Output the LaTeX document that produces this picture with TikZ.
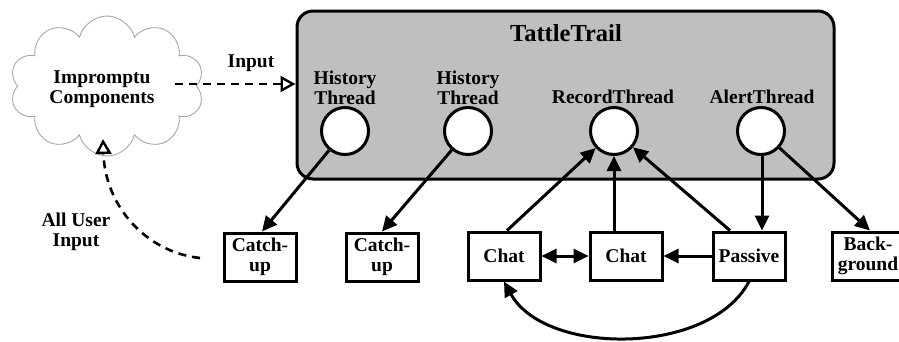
\documentclass[tikz,border=0pt]{standalone}
\usepackage{fontspec}
\setmainfont{Liberation Serif}
\usetikzlibrary{arrows.meta,shapes.symbols,calc}
\begin{document}
\begin{tikzpicture}[x=1pt,y=-1pt,
  lbl/.style={font=\fontsize{19.5}{19.5}\selectfont\bfseries, align=center, inner sep=0pt},
  thread/.style={circle, draw, fill=white, line width=3pt, minimum size=47pt, inner sep=0pt},
  task/.style={rectangle, draw, fill=white, line width=3pt, minimum width=72pt, minimum height=48pt,
    inner sep=0pt, font=\fontsize{19.5}{19.5}\selectfont\bfseries, align=center},
  link/.style={line width=3pt, -{Triangle[length=15pt,width=14pt]}},
  dlink/.style={line width=3pt, {Triangle[length=15pt,width=14pt]}-{Triangle[length=15pt,width=14pt]}},
  feed/.style={line width=2.6pt, dash pattern=on 8pt off 6pt, -{Triangle[open,length=15pt,width=16pt,line width=2.4pt]}}
]
\useasboundingbox (0,0) rectangle (899,341);

% framework container
\node[draw, line width=3pt, fill=gray!50, rounded corners=16pt,
      minimum width=537pt, minimum height=168pt] (tt) at (565.5,95) {};
\node[lbl, font=\fontsize{24.5}{25}\selectfont\bfseries] (title) at (566,33) {TattleTrail};

% threads
\node[lbl] (h1l) at (345,88) {History\\Thread};
\node[lbl] (h2l) at (468,88) {History\\Thread};
\node[lbl] (rl) at (613,97) {RecordThread};
\node[lbl] (al) at (762,97) {AlertThread};
\node[thread] (h1) at (345,131) {};
\node[thread] (h2) at (468,131) {};
\node[thread] (rec) at (614,131) {};
\node[thread] (alr) at (761,131) {};

% impromptu components cloud
\node[cloud, draw=gray!70, line width=0.9pt, cloud puffs=10, cloud ignores aspect,
      minimum width=194pt, minimum height=140pt, inner sep=0pt] (cloud) at (107,86) {};
\node[lbl] (cl) at (102,89) {Impromptu\\Components};
\node[lbl] (inl) at (251,63) {Input};
\node[lbl] (aul) at (76,232) {All User\\Input};

% tasks
\node[task] (c1) at (260,257) {Catch-\\up};
\node[task] (c2) at (382,257) {Catch-\\up};
\node[task] (ch1) at (504,256) {Chat};
\node[task] (ch2) at (626,256) {Chat};
\node[task] (pas) at (749,256) {Passive};
\node[task] (bg) at (868,256) {Back-\\ground};

% input flows
\coordinate (inS) at (175,84);
\coordinate (inE) at (tt.west |- inS);
\draw[feed] (inS) -- (inE);
\coordinate (uS) at (200,258);
\coordinate (uE) at (103,139);
\draw[feed] (uS) .. controls (145,252) and (105,205) .. (uE);

% thread to task connectors
\draw[link] (h1) -- ($(c1.north)+(2,0)$);
\draw[link] (h2) -- (c2.north);
\draw[link] ($(ch1.north)+(3,0)$) -- (rec);
\draw[link] (ch2.north -| rec) -- (rec);
\draw[link] ($(pas.north)+(-19,0)$) -- (rec);
\draw[link] ($(alr.south)+(1,0)$) -- ($(pas.north)+(13,0)$);
\draw[link] (alr) -- ($(bg.north)+(2,0)$);

% task to task connectors
\draw[dlink] (ch1.east) -- (ch2.west);
\draw[link] (pas.west) -- (ch2.east);
\draw[link] (pas.south) .. controls (710,356) and (545,356) .. (ch1.south);
\end{tikzpicture}
\end{document}
